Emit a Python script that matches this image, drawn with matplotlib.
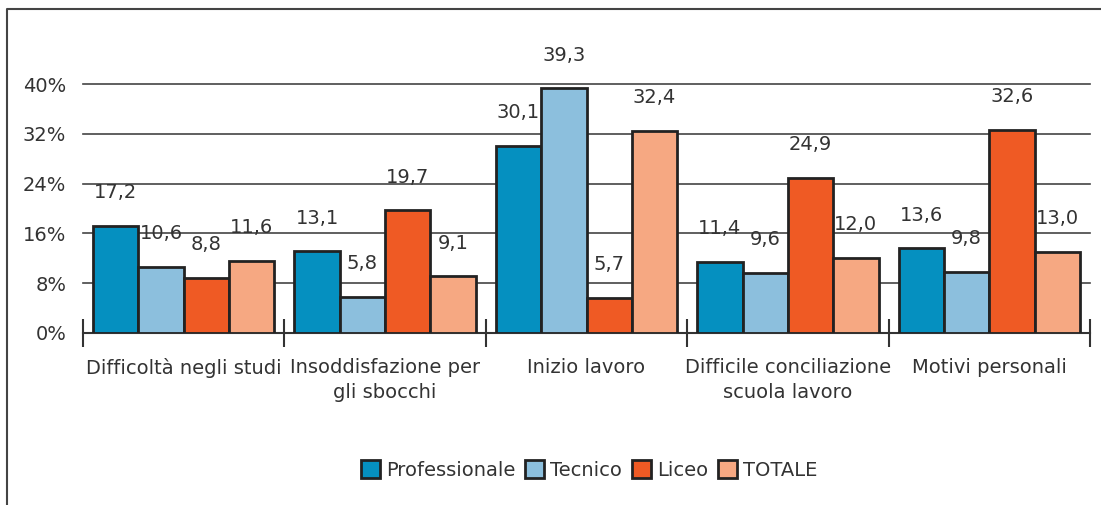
import numpy as np
import matplotlib.pyplot as plt
from matplotlib.lines import Line2D

categories = ["Difficoltà negli studi", "Insoddisfazione per\ngli sbocchi", "Inizio lavoro",
              "Difficile conciliazione\nscuola lavoro", "Motivi personali"]
series = ["Professionale", "Tecnico", "Liceo", "TOTALE"]
professionale = [17.2, 13.1, 30.1, 11.4, 13.6]
tecnico = [10.6, 5.8, 39.3, 9.6, 9.8]
liceo = [8.8, 19.7, 5.7, 24.9, 32.6]
totale = [11.6, 9.1, 32.4, 12.0, 13.0]
yticks = [0, 8, 16, 24, 32, 40]

colors = ["#0590c0", "#8cbfdd", "#ef5a24", "#f6a882"]
values = [professionale, tecnico, liceo, totale]

plt.rcParams['font.family'] = ['DejaVu Sans']
fs = 14

fig = plt.figure(figsize=(11.01, 5.05), dpi=100)
ax = fig.add_axes([83/1101, 1-333/505, 1007/1101, 249/505])

x = np.arange(len(categories))
w = 0.225
for i, (s, vals) in enumerate(zip(series, values)):
    pos = x + (i - 1.5) * w
    ax.bar(pos, vals, w, color=colors[i], edgecolor="#222222", linewidth=2, label=s, zorder=3)
    for p, v in zip(pos, vals):
        ax.annotate(f"{v:.1f}".replace(".", ","), (p, v), xytext=(0, 24), textcoords="offset points",
                    ha="center", va="center", fontsize=fs, color="#333333", annotation_clip=False, zorder=4)

ax.set_xlim(-0.5, 4.5)
ax.set_ylim(0, 40)
ax.set_yticks(yticks)
ax.set_yticklabels([f"{t}%" for t in yticks], fontsize=fs, color="#333333")
ax.tick_params(axis="y", length=0, pad=12)
ax.grid(axis="y", color="#444444", linewidth=1.2, zorder=0)
for gl in ax.get_ygridlines():
    gl.set_clip_on(False)
ax.set_axisbelow(True)
for sp in ["left", "right", "top"]:
    ax.spines[sp].set_visible(False)
ax.spines["bottom"].set_color("#333333")
ax.spines["bottom"].set_linewidth(1.5)

# category boundary ticks
ax.set_xticks(np.arange(-0.5, 5, 1))
ax.set_xticklabels([])
ax.tick_params(axis="x", direction="inout", length=20, width=1.5, color="#333333")
for xi, c in zip(x, categories):
    ax.text(xi, -4.0, c, ha="center", va="top", fontsize=fs, color="#333333", linespacing=1.4)

leg = fig.legend(loc="center", bbox_to_anchor=(0.535, 1-470/505), ncol=4, frameon=False,
                 fontsize=fs, handlelength=1.0, handleheight=1.0, handletextpad=0.3, columnspacing=0.5)
for t in leg.get_texts():
    t.set_color("#333333")

# outer frame (left and top only)
fig.add_artist(Line2D([7/1101, 7/1101, 1.0], [0.0, 1-9/505, 1-9/505], color="#444444", linewidth=1.5))

fig.savefig("out.png", dpi=100)
